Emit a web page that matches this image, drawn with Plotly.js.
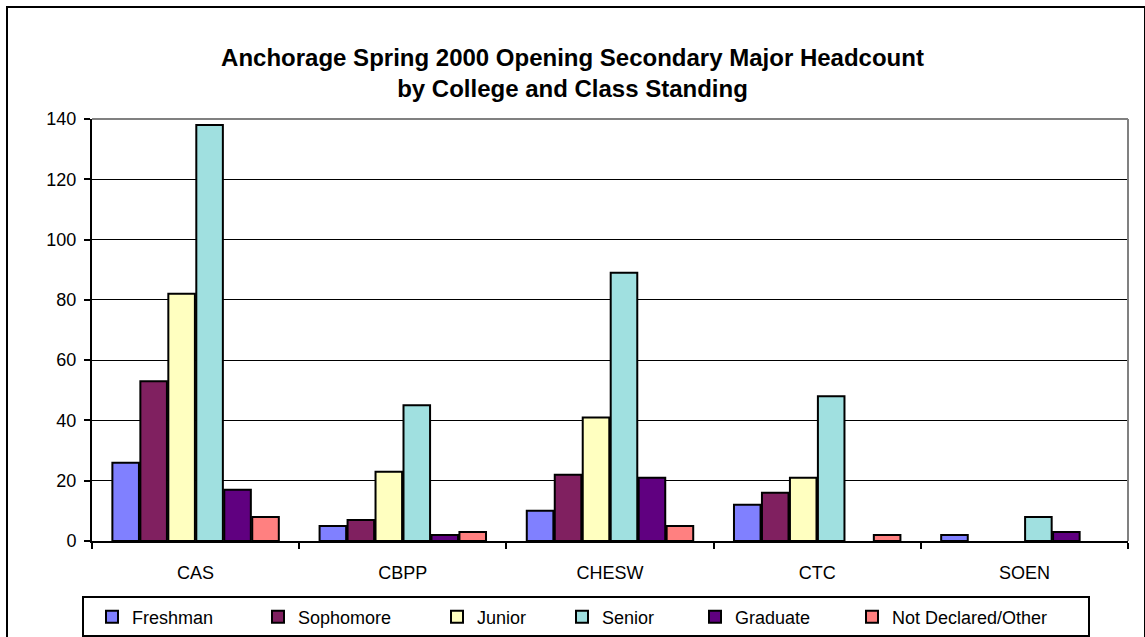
<!DOCTYPE html>
<html>
<head>
<meta charset="utf-8">
<script src="https://cdn.plot.ly/plotly-3.0.1.min.js"></script>
<style>
  html, body { margin: 0; padding: 0; background: #ffffff; }
  #wrap { position: relative; width: 1145px; height: 637px; overflow: hidden; }
  #chart { position: absolute; left: 0; top: 0; width: 1145px; height: 637px; }
  #frame { position: absolute; left: 6px; top: 6px; width: 1136px; height: 650px; border: 2px solid #000; pointer-events: none; }
</style>
</head>
<body>
<div id="wrap">
  <div id="chart"></div>
  <div id="frame"></div>
</div>
<script>
// ---- Data ----
const colleges = ["CAS", "CBPP", "CHESW", "CTC", "SOEN"];
const freshman     = [26, 5, 10, 12, 2];
const sophomore    = [53, 7, 22, 16, 0];
const junior       = [82, 23, 41, 21, 0];
const senior       = [138, 45, 89, 48, 8];
const graduate     = [17, 2, 21, 0, 3];
const notDeclared  = [8, 3, 5, 2, 0];

const seriesNames  = ["Freshman", "Sophomore", "Junior", "Senior", "Graduate", "Not Declared/Other"];
const seriesValues = [freshman, sophomore, junior, senior, graduate, notDeclared];
const seriesColors = ["#8080FF", "#802060", "#FFFFC0", "#A0E0E0", "#600080", "#FF8080"];

const FONT = "Arial, 'Liberation Sans', Helvetica, sans-serif";

// plot-area geometry (pixels) used to place the legend entries
const PL = 92, PR = 1128, PT = 119, PB = 541;
const PW = PR - PL, PH = PB - PT;
const px2x = p => (p - PL) / PW;
const py2y = p => (PB - p) / PH;

// horizontal centres of the legend swatches in the reference
const legendSwatchX = [116, 282, 461, 586, 719, 876];

const traces = seriesNames.map((name, i) => ({
  type: "bar",
  name: name,
  x: colleges,
  // a zero count draws no bar (as in the reference)
  y: seriesValues[i].map(v => (v === 0 ? null : v)),
  legend: i === 0 ? "legend" : "legend" + (i + 1),
  marker: { color: seriesColors[i], line: { color: "#000000", width: 2 } },
  hoverinfo: "x+y+name"
}));

const layout = {
  width: 1145,
  height: 637,
  paper_bgcolor: "rgba(0,0,0,0)",
  plot_bgcolor: "#ffffff",
  margin: { l: PL, r: 1145 - PR, t: PT, b: 637 - PB, pad: 0, autoexpand: false },
  font: { family: FONT, size: 18, color: "#000000" },
  title: {
    text: "<b>Anchorage Spring 2000 Opening Secondary Major Headcount<br>by College and Class Standing</b>",
    font: { family: FONT, size: 24, color: "#000000" },
    x: 0.5,
    xanchor: "center",
    xref: "container",
    y: 1 - 66 / 637,
    yanchor: "top",
    yref: "container"
  },
  barmode: "group",
  bargap: 0.19,
  bargroupgap: 0.05,
  xaxis: {
    type: "category",
    showline: true,
    linecolor: "#000000",
    linewidth: 2,
    ticks: "outside",
    tickson: "boundaries",
    ticklen: 6,
    tickwidth: 2,
    tickcolor: "#000000",
    showgrid: false,
    ticklabelstandoff: 14,
    tickfont: { family: FONT, size: 18, color: "#000000" },
    fixedrange: true
  },
  yaxis: {
    range: [0, 140],
    dtick: 20,
    tick0: 0,
    showline: true,
    linecolor: "#000000",
    linewidth: 2,
    ticks: "outside",
    ticklen: 6,
    tickwidth: 2,
    tickcolor: "#000000",
    showgrid: true,
    gridcolor: "#000000",
    gridwidth: 1,
    zeroline: false,
    ticklabelstandoff: 4,
    tickfont: { family: FONT, size: 18, color: "#000000" },
    fixedrange: true
  },
  shapes: [
    { type: "line", xref: "paper", yref: "paper", x0: 0, x1: 1, y0: 1, y1: 1,
      line: { color: "#808080", width: 2 }, layer: "above" },
    { type: "line", xref: "paper", yref: "paper", x0: 1, x1: 1, y0: 0, y1: 1,
      line: { color: "#808080", width: 2 }, layer: "above" },
    // legend frame
    { type: "rect", xref: "paper", yref: "paper",
      x0: px2x(83), x1: px2x(1089), y0: py2y(597), y1: py2y(636),
      line: { color: "#000000", width: 2 }, fillcolor: "#ffffff", layer: "above" }
  ],
  showlegend: true
};

seriesNames.forEach((name, i) => {
  const key = i === 0 ? "legend" : "legend" + (i + 1);
  layout[key] = {
    orientation: "h",
    x: px2x(legendSwatchX[i] - 24),
    xanchor: "left",
    y: py2y(617),
    yanchor: "middle",
    bgcolor: "rgba(0,0,0,0)",
    borderwidth: 0,
    font: { family: FONT, size: 18, color: "#000000" }
  };
});

Plotly.newPlot("chart", traces, layout, { displayModeBar: false, staticPlot: true });
</script>
</body>
</html>
